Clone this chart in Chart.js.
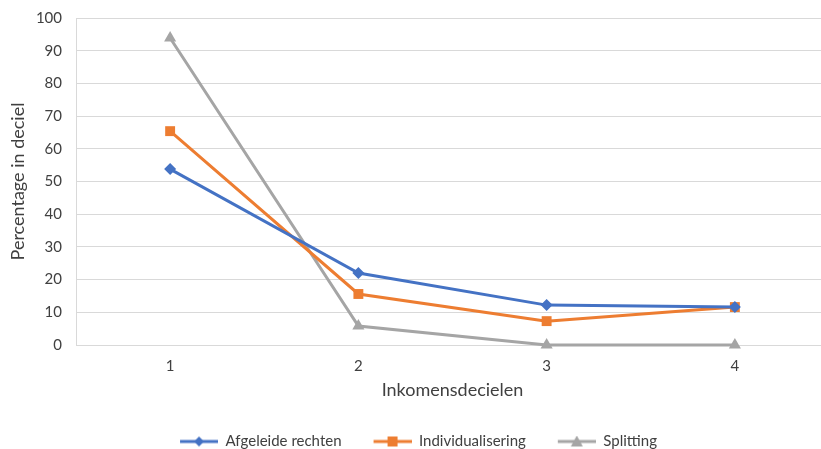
<!DOCTYPE html>
<html>
<head>
<meta charset="utf-8">
<script src="https://cdn.jsdelivr.net/npm/chart.js@4.4.1/dist/chart.umd.min.js"></script>
<style>
  html, body { margin: 0; padding: 0; background: #fff; overflow: hidden; }
  #wrap { position: relative; width: 845px; height: 449px; }
</style>
</head>
<body>
<div id="wrap"><canvas id="chart"></canvas></div>
<script>
const categories = ['1', '2', '3', '4'];
const afgeleideRechten = [53.8, 22.0, 12.2, 11.6];
const individualisering = [65.4, 15.6, 7.3, 11.6];
const splitting = [93.9, 5.8, 0, 0];
const yTicks = [0, 10, 20, 30, 40, 50, 60, 70, 80, 90, 100];

const FONT = 'Lato, "DejaVu Sans", sans-serif';
const TEXT = '#404040';

// legend icon: short line with marker in the middle, left part left blank as spacing
function legendIcon(color, shape) {
  const c = document.createElement('canvas');
  c.width = 62; c.height = 12;
  const ctx = c.getContext('2d');
  ctx.strokeStyle = color;
  ctx.fillStyle = color;
  ctx.lineWidth = 3;
  ctx.beginPath();
  ctx.moveTo(24, 6); ctx.lineTo(62, 6);
  ctx.stroke();
  const cx = 43, cy = 6;
  ctx.beginPath();
  if (shape === 'diamond') {
    ctx.moveTo(cx, cy - 5); ctx.lineTo(cx + 5, cy); ctx.lineTo(cx, cy + 5); ctx.lineTo(cx - 5, cy);
  } else if (shape === 'square') {
    ctx.rect(cx - 5, cy - 5, 10, 10);
  } else {
    ctx.moveTo(cx, cy - 6); ctx.lineTo(cx + 6, cy + 5); ctx.lineTo(cx - 6, cy + 5);
  }
  ctx.closePath();
  ctx.fill();
  return c;
}

const icons = [
  legendIcon('#4472C4', 'diamond'),
  legendIcon('#ED7D31', 'square'),
  legendIcon('#A5A5A5', 'triangle')
];

new Chart(document.getElementById('chart'), {
  type: 'line',
  data: {
    labels: categories,
    datasets: [
      {
        label: 'Afgeleide rechten',
        data: afgeleideRechten,
        borderColor: '#4472C4',
        backgroundColor: '#4472C4',
        borderWidth: 3,
        pointStyle: 'rectRot',
        pointRadius: 6,
        pointBorderWidth: 0,
        clip: false
      },
      {
        label: 'Individualisering',
        data: individualisering,
        borderColor: '#ED7D31',
        backgroundColor: '#ED7D31',
        borderWidth: 3,
        pointStyle: 'rect',
        pointRadius: 7,
        pointBorderWidth: 0,
        clip: false
      },
      {
        label: 'Splitting',
        data: splitting,
        borderColor: '#A5A5A5',
        backgroundColor: '#A5A5A5',
        borderWidth: 3,
        pointStyle: 'triangle',
        pointRadius: 7,
        pointBorderWidth: 0,
        clip: false
      }
    ]
  },
  options: {
    responsive: true,
    maintainAspectRatio: false,
    animation: false,
    layout: { autoPadding: false, padding: { top: 18, bottom: -10, left: -16, right: 16 } },
    plugins: {
      tooltip: { enabled: false },
      legend: {
        position: 'bottom',
        labels: {
          usePointStyle: true,
          pointStyleWidth: 62,
          padding: 8,
          color: TEXT,
          font: { family: FONT, size: 15 },
          generateLabels: (chart) => chart.data.datasets.map((ds, i) => ({
            text: ds.label,
            pointStyle: icons[i],
            fontColor: TEXT,
            datasetIndex: i,
            hidden: false,
            lineWidth: 0
          }))
        }
      }
    },
    scales: {
      x: {
        offset: true,
        grid: { display: false, drawTicks: false },
        border: { display: false },
        ticks: { color: TEXT, font: { family: FONT, size: 15 }, padding: 12 },
        title: {
          display: true,
          text: 'Inkomensdecielen',
          color: TEXT,
          font: { family: FONT, size: 18 },
          padding: { top: 4, bottom: 25 }
        },
        afterFit: (scale) => { scale.height = 81; }
      },
      y: {
        min: 0,
        max: 100,
        afterBuildTicks: (scale) => { scale.ticks = yTicks.map(v => ({ value: v })); },
        grid: { color: '#D9D9D9', lineWidth: 1, drawTicks: false },
        border: { display: true, color: '#D9D9D9' },
        ticks: { color: TEXT, font: { family: FONT, size: 15 }, padding: 14 },
        title: {
          display: true,
          text: 'Percentage in deciel',
          color: TEXT,
          font: { family: FONT, size: 18 },
          padding: { top: 23, bottom: 4 }
        },
        afterFit: (scale) => {
          scale.width = 92;
          scale.paddingTop = 9;
          scale.paddingBottom = 9;
        }
      }
    }
  }
});
</script>
</body>
</html>
